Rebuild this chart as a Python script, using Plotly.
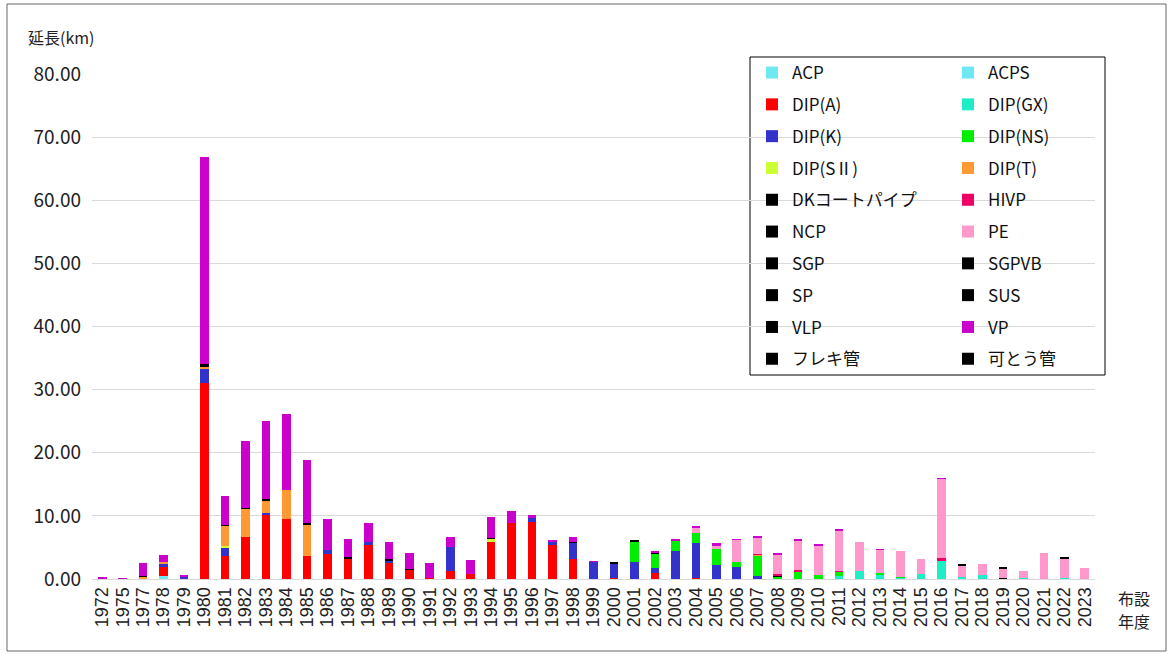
import plotly.graph_objects as go

years = ["1972", "1975", "1977", "1978", "1979",
         "1980", "1981", "1982", "1983", "1984", "1985", "1986", "1987", "1988", "1989",
         "1990", "1991", "1992", "1993", "1994", "1995", "1996", "1997", "1998", "1999",
         "2000", "2001", "2002", "2003", "2004", "2005", "2006", "2007", "2008", "2009",
         "2010", "2011", "2012", "2013", "2014", "2015", "2016", "2017", "2018", "2019",
         "2020", "2021", "2022", "2023"]

#            72   75   77   78    79
ACP =      [0, 0, 0, 0.4, 0,
            0, 0, 0, 0, 0, 0, 0, 0, 0, 0,
            0, 0, 0, 0, 0, 0, 0, 0, 0, 0,
            0, 0, 0, 0, 0, 0, 0, 0, 0, 0,
            0, 0, 0, 0, 0, 0, 0, 0, 0, 0,
            0, 0, 0, 0]
ACPS =     [0, 0, 0, 0, 0,
            0, 0, 0, 0, 0, 0, 0, 0, 0, 0,
            0, 0, 0, 0, 0, 0, 0, 0, 0, 0,
            0, 0, 0, 0, 0, 0, 0, 0, 0, 0,
            0, 0, 0, 0, 0, 0, 0, 0, 0, 0,
            0, 0, 0, 0]
DIP_A =    [0, 0, 0, 1.45, 0,
            31.0, 3.65, 6.7, 10.2, 9.5, 3.65, 4.0, 3.2, 5.35, 2.6,
            1.55, 0.2, 1.2, 0.75, 5.85, 8.9, 9.0, 5.35, 3.1, 0,
            0.2, 0, 0.9, 0, 0.1, 0, 0, 0, 0, 0,
            0, 0, 0, 0, 0, 0, 0, 0, 0, 0,
            0, 0, 0, 0]
DIP_GX =   [0, 0, 0, 0, 0,
            0, 0, 0, 0, 0, 0, 0, 0, 0, 0,
            0, 0, 0, 0, 0, 0, 0, 0, 0, 0,
            0, 0, 0, 0, 0, 0, 0, 0, 0, 0,
            0, 0.5, 1.2, 0.75, 0.2, 0.75, 3.0, 0.3, 0.65, 0,
            0.15, 0, 0.2, 0]
DIP_K =    [0.1, 0, 0, 0.65, 0.45,
            2.4, 1.3, 0, 0.2, 0, 0, 0.6, 0, 0.5, 0.35,
            0, 0, 3.9, 0, 0, 0, 0.65, 0.65, 2.65, 2.75,
            2.3, 2.65, 0.8, 4.4, 5.55, 2.2, 1.95, 0.4, 0, 0,
            0, 0, 0, 0, 0, 0, 0, 0, 0, 0,
            0, 0, 0, 0]
DIP_NS =   [0, 0, 0, 0, 0,
            0, 0, 0, 0, 0, 0, 0, 0, 0, 0,
            0, 0, 0, 0, 0, 0, 0, 0, 0, 0,
            0, 3.25, 2.35, 1.6, 1.65, 2.5, 0.75, 3.3, 0.4, 1.25,
            0.6, 0.65, 0, 0.25, 0.1, 0, 0, 0, 0, 0,
            0, 0, 0, 0]
DIP_S2 =   [0, 0, 0, 0, 0,
            0, 0.35, 0, 0, 0, 0, 0, 0, 0, 0,
            0, 0, 0, 0, 0.5, 0, 0, 0, 0, 0,
            0, 0, 0, 0, 0, 0, 0, 0, 0, 0,
            0, 0, 0, 0, 0, 0, 0, 0, 0, 0,
            0, 0, 0, 0]
DIP_T =    [0, 0, 0.4, 0.25, 0,
            0.3, 3.1, 4.45, 2.0, 4.6, 5.0, 0, 0, 0, 0,
            0, 0, 0, 0, 0, 0, 0, 0, 0, 0,
            0, 0, 0, 0, 0, 0, 0, 0.2, 0, 0,
            0, 0, 0, 0, 0, 0, 0, 0, 0, 0,
            0, 0, 0, 0]
DK_COAT =  [0, 0, 0.15, 0, 0,
            0.3, 0.1, 0.15, 0.2, 0, 0.15, 0, 0.25, 0, 0.2,
            0.1, 0, 0, 0, 0, 0, 0, 0, 0, 0,
            0, 0, 0, 0, 0, 0, 0, 0, 0.1, 0,
            0, 0, 0, 0, 0, 0, 0, 0, 0, 0,
            0, 0, 0, 0]
HIVP =     [0, 0, 0, 0, 0,
            0, 0, 0, 0, 0, 0, 0, 0, 0, 0,
            0, 0, 0, 0, 0, 0, 0, 0, 0, 0,
            0, 0, 0, 0, 0, 0, 0, 0.1, 0.35, 0.15,
            0, 0.1, 0, 0, 0, 0, 0.3, 0, 0.05, 0,
            0, 0, 0, 0]
NCP =      [0, 0, 0, 0, 0,
            0, 0, 0, 0, 0, 0, 0, 0, 0, 0,
            0, 0, 0, 0, 0, 0, 0, 0, 0, 0,
            0, 0, 0, 0, 0, 0, 0, 0, 0, 0,
            0, 0, 0, 0, 0, 0, 0, 0, 0, 0.1,
            0, 0, 0, 0]
PE =       [0, 0, 0, 0, 0,
            0, 0, 0, 0, 0, 0, 0, 0, 0, 0,
            0, 0, 0, 0, 0, 0, 0, 0, 0, 0,
            0, 0, 0, 0, 0.8, 0.65, 3.5, 2.65, 3.1, 4.75,
            4.7, 6.45, 4.6, 3.6, 4.2, 2.45, 12.55, 1.85, 1.65, 1.6,
            1.15, 4.15, 3.0, 1.8]
SGP =      [0, 0, 0, 0, 0,
            0, 0, 0, 0, 0, 0, 0, 0, 0, 0,
            0, 0, 0, 0, 0.1, 0, 0, 0, 0.1, 0,
            0.1, 0.2, 0.15, 0, 0, 0, 0, 0, 0, 0,
            0, 0, 0, 0, 0, 0, 0, 0.15, 0, 0.15,
            0, 0, 0.25, 0]
SGPVB =    [0, 0, 0, 0, 0,
            0, 0, 0, 0, 0, 0, 0, 0, 0, 0,
            0, 0, 0, 0, 0, 0, 0, 0, 0, 0,
            0, 0, 0, 0, 0, 0, 0, 0, 0, 0,
            0, 0, 0, 0, 0, 0, 0, 0, 0, 0,
            0, 0, 0, 0]
SP =       [0, 0, 0, 0, 0,
            0, 0, 0, 0, 0, 0, 0, 0, 0, 0,
            0, 0, 0, 0, 0, 0, 0, 0, 0, 0,
            0, 0, 0, 0, 0, 0, 0, 0, 0, 0,
            0, 0, 0, 0, 0, 0, 0, 0, 0, 0,
            0, 0, 0, 0]
SUS =      [0, 0, 0, 0, 0,
            0, 0, 0, 0, 0, 0, 0, 0, 0, 0,
            0, 0, 0, 0, 0, 0, 0, 0, 0, 0,
            0, 0, 0, 0, 0, 0, 0, 0, 0, 0,
            0, 0, 0, 0, 0, 0, 0, 0, 0, 0,
            0, 0, 0, 0]
VLP =      [0, 0, 0, 0, 0,
            0, 0, 0, 0, 0, 0, 0, 0, 0, 0,
            0, 0, 0, 0, 0, 0, 0, 0, 0, 0,
            0, 0, 0, 0, 0, 0, 0, 0, 0, 0,
            0, 0, 0, 0, 0, 0, 0, 0, 0, 0,
            0, 0, 0, 0]
VP =       [0.2, 0.15, 2.0, 1.0, 0.05,
            32.9, 4.65, 10.5, 12.4, 12.05, 10.1, 4.85, 2.9, 3.05, 2.65,
            2.45, 2.4, 1.5, 2.2, 3.3, 1.9, 0.45, 0.2, 0.8, 0.05,
            0, 0, 0.2, 0.35, 0.3, 0.3, 0.1, 0.1, 0.05, 0.05,
            0.1, 0.1, 0, 0.05, 0, 0, 0.05, 0, 0, 0,
            0, 0, 0, 0]
FLEX =     [0, 0, 0, 0, 0,
            0, 0, 0, 0, 0, 0, 0, 0, 0, 0,
            0, 0, 0, 0, 0, 0, 0, 0, 0, 0,
            0, 0, 0, 0, 0, 0, 0, 0, 0, 0,
            0, 0, 0, 0, 0, 0, 0, 0, 0, 0,
            0, 0, 0, 0]
KATOU =    [0, 0, 0, 0, 0,
            0, 0, 0, 0, 0, 0, 0, 0, 0, 0,
            0, 0, 0, 0, 0, 0, 0, 0, 0, 0,
            0, 0, 0, 0, 0, 0, 0, 0, 0, 0,
            0, 0, 0, 0, 0, 0, 0, 0, 0, 0,
            0, 0, 0, 0]

series_names = ["ACP", "ACPS", "DIP(A)", "DIP(GX)", "DIP(K)", "DIP(NS)", "DIP(SⅡ)", "DIP(T)",
                "DKコートパイプ", "HIVP", "NCP", "PE", "SGP", "SGPVB", "SP", "SUS", "VLP", "VP",
                "フレキ管", "可とう管"]
series_values = [ACP, ACPS, DIP_A, DIP_GX, DIP_K, DIP_NS, DIP_S2, DIP_T,
                 DK_COAT, HIVP, NCP, PE, SGP, SGPVB, SP, SUS, VLP, VP, FLEX, KATOU]
series_colors = ["#6EE8F2", "#6EE8F2", "#FF0000", "#1EEEC6", "#3333CC", "#00EE00", "#CCFF33", "#FF9933",
                 "#000000", "#EE0066", "#000000", "#FF99CC", "#000000", "#000000", "#000000", "#000000",
                 "#000000", "#CC00CC", "#000000", "#000000"]

JP = "Noto Sans CJK JP"

fig = go.Figure()
for i, (name, vals, col) in enumerate(zip(series_names, series_values, series_colors)):
    fig.add_trace(go.Bar(
        x=years, y=vals, name=name, marker=dict(color=col, line=dict(width=0)),
        legend="legend" if i % 2 == 0 else "legend2",
        legendgroup=name,
    ))

W, H = 1168, 654
L, R, T, B = 92, 73, 74, 75
pw, ph = W - L - R, H - T - B

def px(x):
    return (x - L) / pw

def py(y):
    return (H - B - y) / ph

legend_common = dict(
    font=dict(family=JP, size=17, color="#111111"),
    bgcolor="rgba(0,0,0,0)", borderwidth=0,
    yanchor="top", xanchor="left", tracegroupgap=6.7,
    traceorder="grouped", orientation="v",
)

fig.update_layout(
    width=W, height=H,
    margin=dict(l=L, r=R, t=T, b=B),
    barmode="stack", bargap=0.58,
    plot_bgcolor="white", paper_bgcolor="white",
    font=dict(family=JP, color="#222222"),
    xaxis=dict(
        type="category", tickangle=-90, showgrid=False, dtick=1, tickmode="linear",
        showline=True, linecolor="#D9D9D9", linewidth=1,
        ticks="", tickfont=dict(family="Liberation Sans, Arial", size=18, color="#222222"),
    ),
    yaxis=dict(
        range=[0, 80], dtick=10, tickformat=".2f",
        showgrid=True, gridcolor="#D9D9D9", gridwidth=1,
        zeroline=False, showline=False, ticks="",
        tickfont=dict(family=JP, size=19, color="#222222"),
        ticklabelstandoff=10,
    ),
    legend=dict(x=px(752), y=py(55), **legend_common),
    legend2=dict(x=px(948), y=py(55), **legend_common),
    showlegend=True,
    shapes=[
        dict(type="rect", xref="paper", yref="paper",
             x0=px(750), x1=px(1105), y0=py(375), y1=py(57),
             line=dict(color="#000000", width=1), fillcolor="white", layer="between"),
        dict(type="rect", xref="paper", yref="paper",
             x0=px(7), x1=px(1166), y0=py(651), y1=py(4),
             line=dict(color="#666666", width=1), fillcolor="rgba(0,0,0,0)", layer="below"),
    ],
    annotations=[
        dict(text="延長(km)", xref="paper", yref="paper", x=px(26), y=py(37),
             xanchor="left", yanchor="middle", showarrow=False,
             font=dict(family=JP, size=16, color="#222222")),
        dict(text="布設", xref="paper", yref="paper", x=px(1134), y=py(598),
             xanchor="center", yanchor="middle", showarrow=False,
             font=dict(family=JP, size=16, color="#222222")),
        dict(text="年度", xref="paper", yref="paper", x=px(1134), y=py(621),
             xanchor="center", yanchor="middle", showarrow=False,
             font=dict(family=JP, size=16, color="#222222")),
    ],
)

fig.write_html("out.html", config={"displayModeBar": False},
               post_script="document.body.style.margin='0';document.body.style.overflow='hidden';")
